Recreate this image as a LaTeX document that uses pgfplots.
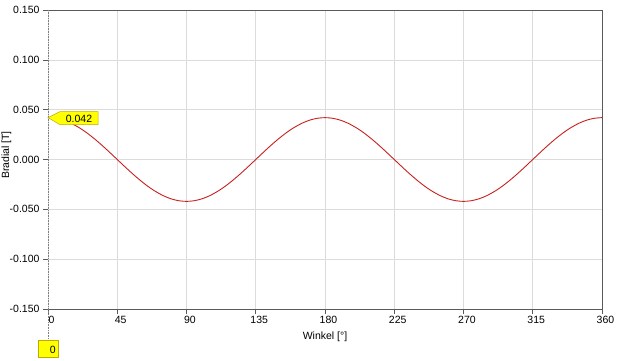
\documentclass[border=0pt]{standalone}
\usepackage{fontspec}
\setmainfont{Liberation Sans}
\usepackage{pgfplots}
\pgfplotsset{compat=1.18}
\definecolor{curve}{RGB}{200,32,32}
\definecolor{gridc}{RGB}{220,220,220}
\definecolor{axc}{RGB}{90,90,90}
\definecolor{yel}{RGB}{255,255,0}
\definecolor{yelb}{RGB}{190,170,0}
\begin{document}
\begin{tikzpicture}
\useasboundingbox (0,0) rectangle (640pt,360pt);
\begin{axis}[
  at={(48pt,51pt)}, anchor=south west,
  scale only axis, width=554pt, height=299pt,
  xmin=0, xmax=360, ymin=-0.15, ymax=0.15,
  xtick={0,45,...,360},
  ytick={-0.15,-0.1,-0.05,0,0.05,0.1,0.15},
  xtick pos=left, ytick pos=left,
  tick align=outside,
  major tick length=5pt,
  tick style={axc, line width=0.6pt},
  axis line style={draw=none},
  grid=major,
  major grid style={gridc, line width=0.6pt},
  font=\fontsize{10.5}{12}\selectfont,
  /pgf/number format/assume math mode=true,
  yticklabel style={/pgf/number format/.cd, fixed, fixed zerofill, precision=3},
  xticklabel style={xshift=3.5pt, yshift=1pt},
  xlabel={Winkel [°]},
  ylabel={Bradial [T]},
  xlabel style={yshift=-1pt},
  ylabel style={at={(axis description cs:-0.075,0.515)}, anchor=center},
  clip=false,
]
\addplot[curve, line width=0.9pt, smooth] coordinates {
(0,0.042)(5,0.04136)(10,0.03947)(15,0.03637)(20,0.03217)(25,0.02700)(30,0.02100)(35,0.01436)(40,0.00729)(45,0)
(50,-0.00729)(55,-0.01436)(60,-0.02100)(65,-0.02700)(70,-0.03217)(75,-0.03637)(80,-0.03947)(85,-0.04136)(90,-0.042)
(95,-0.04136)(100,-0.03947)(105,-0.03637)(110,-0.03217)(115,-0.02700)(120,-0.02100)(125,-0.01436)(130,-0.00729)(135,0)
(140,0.00729)(145,0.01436)(150,0.02100)(155,0.02700)(160,0.03217)(165,0.03637)(170,0.03947)(175,0.04136)(180,0.042)
(185,0.04136)(190,0.03947)(195,0.03637)(200,0.03217)(205,0.02700)(210,0.02100)(215,0.01436)(220,0.00729)(225,0)
(230,-0.00729)(235,-0.01436)(240,-0.02100)(245,-0.02700)(250,-0.03217)(255,-0.03637)(260,-0.03947)(265,-0.04136)(270,-0.042)
(275,-0.04136)(280,-0.03947)(285,-0.03637)(290,-0.03217)(295,-0.02700)(300,-0.02100)(305,-0.01436)(310,-0.00729)(315,0)
(320,0.00729)(325,0.01436)(330,0.02100)(335,0.02700)(340,0.03217)(345,0.03637)(350,0.03947)(355,0.04136)(360,0.042)
};
\coordinate (tip) at (axis cs:0,0.042);
\coordinate (bot) at (axis cs:0,-0.15);
\coordinate (top) at (axis cs:0,0.15);
\coordinate (tr) at (axis cs:360,0.15);
\coordinate (br) at (axis cs:360,-0.15);
\end{axis}
% frame
\draw[axc, line width=0.7pt] (top) -- (tr) -- (br) -- (bot);
\draw[gray, densely dotted, line width=0.6pt] (top) -- ([yshift=-31pt]bot);
% cursor callout
\draw[yelb, fill=yel, line width=0.5pt] (tip) -- ++(12pt,6pt) -- ++(38pt,0pt) -- ++(0pt,-13pt) -- ++(-38pt,0pt) -- cycle;
\node[font=\fontsize{10.5}{12}\selectfont, anchor=center, inner sep=0pt] at ([xshift=31pt,yshift=-1.5pt]tip) {0.042};
\draw[yelb, fill=yel, line width=0.5pt] ([xshift=-10pt,yshift=-31pt]bot) rectangle ([xshift=10pt,yshift=-48pt]bot);
\node[font=\fontsize{10.5}{12}\selectfont, anchor=east, inner sep=0pt] at ([xshift=8pt,yshift=-40.5pt]bot) {0};
\end{tikzpicture}
\end{document}
